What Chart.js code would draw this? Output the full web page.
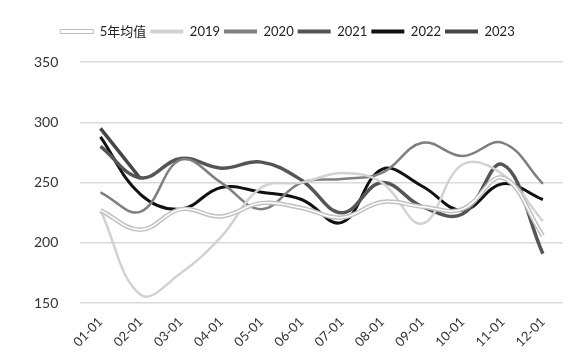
<!DOCTYPE html>
<html>
<head>
<meta charset="utf-8">
<script src="https://cdn.jsdelivr.net/npm/chart.js@4/dist/chart.umd.min.js"></script>
<style>
  body { margin: 0; background: #fff; }
  #wrap { width: 583px; height: 361px; }
</style>
</head>
<body>
<div id="wrap"><canvas id="myChart" width="583" height="361"></canvas></div>
<script>
// month labels
var months = ["01-01", "02-01", "03-01", "04-01", "05-01", "06-01", "07-01", "08-01", "09-01", "10-01", "11-01", "12-01"];

// series
var avg5 = [227, 211, 228, 222, 233, 229, 221, 234, 230, 228, 254, 206];
var y2019 = [227, 157, 175, 205, 246, 250, 258, 250, 216, 265, 257, 218];
var y2020 = [242, 226, 269, 250, 228, 250, 253, 258, 283, 272, 283, 249];
var y2021 = [280, 254, 270, 262, 267, 252, 225, 250, 230, 224, 265, 191];
var y2022 = [288, 240, 228, 246, 242, 236, 217, 261, 247, 227, 249, 236];
var y2023 = [295, 253, null, null, null, null, null, null, null, null, null, null];

var yTicks = [150, 200, 250, 300, 350];

var fontFam = "Lato, 'Noto Sans CJK SC', sans-serif";

function line(label, data, color, width) {
    return {
        label: label,
        data: data,
        borderColor: color,
        backgroundColor: color,
        borderWidth: width,
        pointRadius: 0,
        tension: 0.4,
        fill: false
    };
}

var avgOuter = line('5年均值', avg5, '#c0c0c0', 4.5);
var avgInner = line('_inner', avg5, '#ffffff', 1.5);

// push the plot down below the legend
var legendGap = {
    id: 'legendGap',
    beforeInit: function (chart) {
        var fit = chart.legend.fit;
        chart.legend.fit = function () {
            fit.bind(chart.legend)();
            this.height += 14;
        };
    }
};

var ctx = document.getElementById("myChart").getContext("2d");
var myChart = new Chart(ctx, {
    type: 'line',
    data: {
        labels: months,
        datasets: [
            avgInner,
            avgOuter,
            line('2019', y2019, '#d2d2d2', 2.5),
            line('2020', y2020, '#7f7f7f', 2.5),
            line('2021', y2021, '#555555', 3.5),
            line('2022', y2022, '#111111', 3),
            line('2023', y2023, '#464646', 3.5)
        ]
    },
    plugins: [legendGap],
    options: {
        responsive: false,
        animation: false,
        layout: { padding: { left: 12, right: 20, top: 21, bottom: 8 } },
        plugins: {
            tooltip: { enabled: false },
            legend: {
                position: 'top',
                labels: {
                    boxWidth: 33,
                    boxHeight: 4,
                    padding: 4,
                    color: '#222222',
                    font: { family: fontFam, size: 13 },
                    filter: function (item) { return item.text !== '_inner'; },
                    generateLabels: function (chart) {
                        var items = Chart.defaults.plugins.legend.labels.generateLabels(chart);
                        items.forEach(function (it) {
                            if (it.text === '5年均值') {
                                it.fillStyle = '#ffffff';
                                it.strokeStyle = '#c0c0c0';
                                it.lineWidth = 1;
                            } else {
                                it.fillStyle = it.strokeStyle;
                                it.lineWidth = 0;
                            }
                        });
                        return items;
                    }
                }
            }
        },
        scales: {
            x: {
                offset: true,
                grid: { display: false },
                border: { display: false },
                ticks: {
                    minRotation: 45,
                    maxRotation: 45,
                    color: '#333333',
                    font: { family: fontFam, size: 13 }
                }
            },
            y: {
                min: 150,
                max: 350,
                afterBuildTicks: function (axis) {
                    axis.ticks = yTicks.map(function (v) { return { value: v }; });
                },
                grid: { color: '#d9d9d9', lineWidth: 1.5, drawTicks: false },
                border: { display: false },
                ticks: {
                    padding: 22,
                    color: '#333333',
                    font: { family: fontFam, size: 14 }
                }
            }
        }
    }
});
</script>
</body>
</html>
